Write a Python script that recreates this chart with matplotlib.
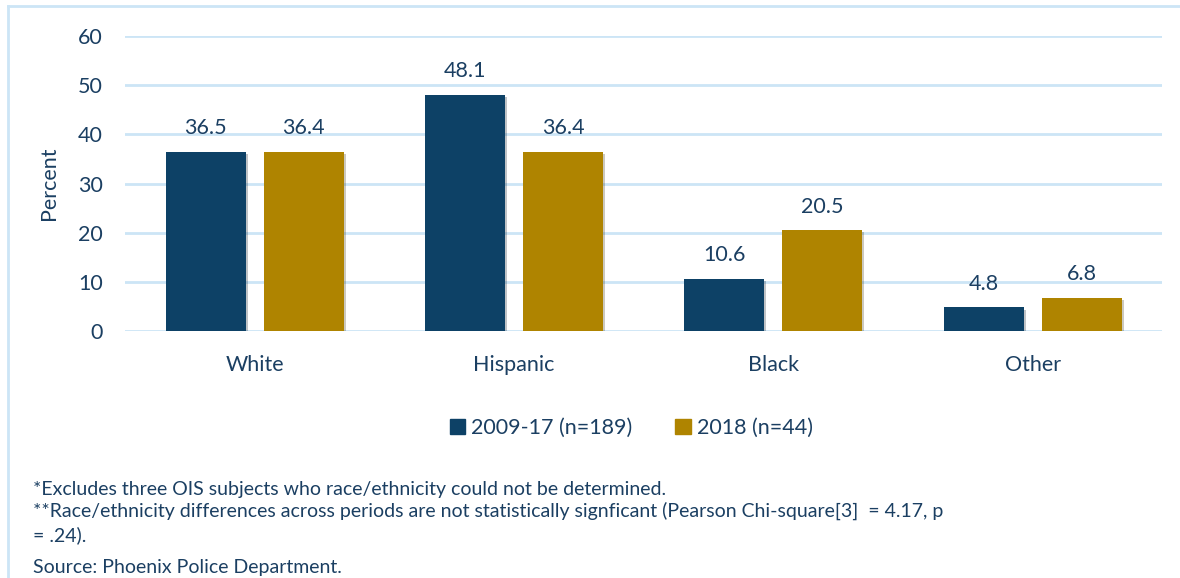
import matplotlib
matplotlib.use('Agg')
from matplotlib import pyplot as plt
from matplotlib.patches import Rectangle
from matplotlib.lines import Line2D
import matplotlib.patheffects as pe
import numpy as np

categories = ['White', 'Hispanic', 'Black', 'Other']
period_2009_17 = [36.5, 48.1, 10.6, 4.8]
period_2018 = [36.4, 36.4, 20.5, 6.8]
series_names = ['2009-17 (n=189)', '2018 (n=44)']
yticks = [0, 10, 20, 30, 40, 50, 60]

notes = [
    '*Excludes three OIS subjects who race/ethnicity could not be determined.',
    '**Race/ethnicity differences across periods are not statistically signficant (Pearson Chi-square[3]  = 4.17, p',
    '= .24).',
    'Source: Phoenix Police Department.',
]

blue = '#0D4166'
gold = '#AF8400'
text_c = '#1B3F62'
grid_c = '#CCE5F6'
fs = 15.5

plt.rcParams['font.family'] = ['Lato', 'DejaVu Sans']

fig = plt.figure(figsize=(11.8, 5.78), dpi=100)
ax = fig.add_axes([0.106, 0.4273, 0.879, 0.5104])

x = np.arange(len(categories))
w = 0.309
off = 0.189
shadow = [pe.SimplePatchShadow(offset=(1.5, -1.5), alpha=0.25), pe.Normal()]
b1 = ax.bar(x - off, period_2009_17, w, color=blue, zorder=3, path_effects=shadow)
b2 = ax.bar(x + off, period_2018, w, color=gold, zorder=3, path_effects=shadow)

for bars, vals in ((b1, period_2009_17), (b2, period_2018)):
    for r, v in zip(bars, vals):
        ax.annotate('{:.1f}'.format(v), (r.get_x() + r.get_width() / 2, v),
                    xytext=(0, 17), textcoords='offset points',
                    ha='center', va='center', fontsize=fs, color=text_c)

ax.set_xlim(-0.5, 3.5)
ax.set_ylim(0, 60)
ax.set_yticks(yticks)
ax.grid(axis='y', color=grid_c, lw=2, zorder=0)
ax.set_axisbelow(True)
for s in ax.spines.values():
    s.set_visible(False)
ax.tick_params(length=0, labelsize=fs, labelcolor=text_c)
ax.tick_params(axis='y', pad=16)
ax.tick_params(axis='x', pad=17)
ax.set_xticks(x)
ax.set_xticklabels(categories)
ax.set_ylabel('Percent', fontsize=fs, color=text_c, labelpad=14)

handles = [Rectangle((0, 0), 1, 1, color=blue), Rectangle((0, 0), 1, 1, color=gold)]
fig.legend(handles, series_names, loc='center', bbox_to_anchor=(0.535, 0.259),
           ncol=2, frameon=False, fontsize=fs, labelcolor=text_c,
           handlelength=0.7, handleheight=0.7, handletextpad=0.3,
           columnspacing=2.0)

ys = [489, 511, 535, 567]
for t, yy in zip(notes, ys):
    fig.text(33 / 1180, 1 - yy / 578, t, fontsize=14, color=text_c, va='center')

# outer frame lines (top and left)
fig.add_artist(Line2D([8 / 1180, 1], [1 - 6 / 578, 1 - 6 / 578], color=grid_c, lw=2,
                      transform=fig.transFigure))
fig.add_artist(Line2D([8 / 1180, 8 / 1180], [0, 1 - 6 / 578], color=grid_c, lw=2,
                      transform=fig.transFigure))

fig.savefig('out.png', dpi=100, facecolor='white')
